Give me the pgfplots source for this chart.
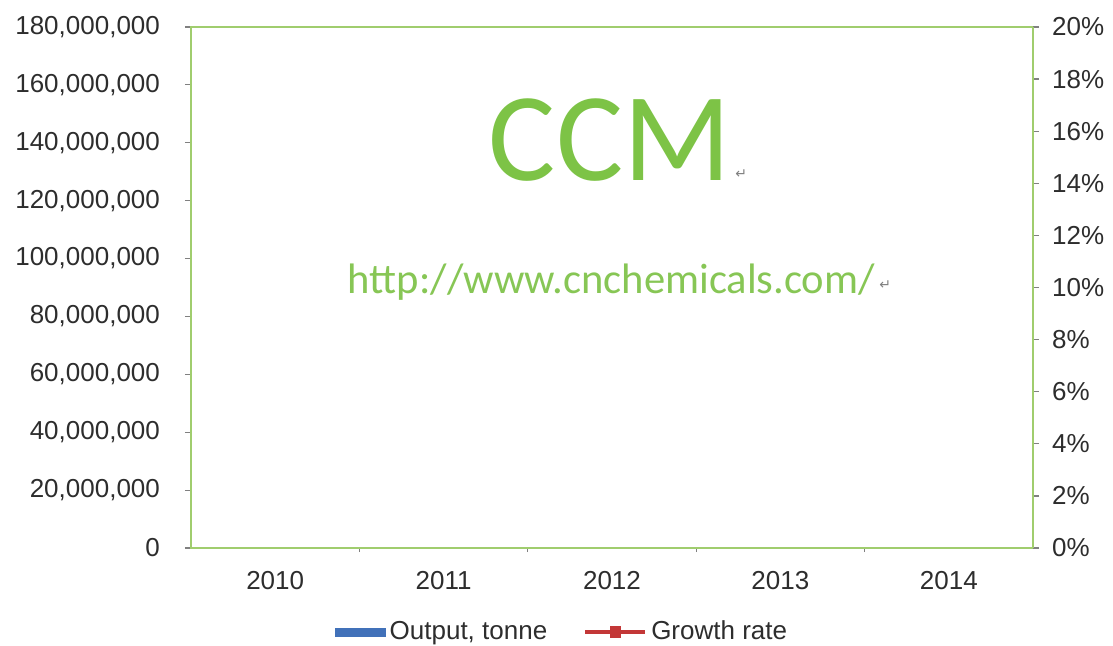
\documentclass[border=0pt]{standalone}
\usepackage{fontspec}
\setmainfont{Liberation Sans}
\newfontfamily\calibri{Carlito}
\newfontfamily\dejavu{DejaVu Sans}
\usepackage{pgfplots}
\pgfplotsset{compat=1.18}
\definecolor{axgreen}{RGB}{160,205,110}
\definecolor{ccmgreen}{RGB}{125,195,70}
\definecolor{urlgreen}{RGB}{135,198,85}
\definecolor{barblue}{RGB}{65,113,185}
\definecolor{linered}{RGB}{195,55,55}
\definecolor{lbl}{RGB}{45,45,45}
\begin{document}
\begin{tikzpicture}
\pgfplotsset{
  common/.style={
    scale only axis, width=421pt, height=260.5pt,
    xmin=-0.5, xmax=4.5,
    clip=false,
    tick align=outside,
    major tick length=3pt,
    every tick/.style={gray, line width=0.6pt},
    axis line style={axgreen, line width=0.9pt},
    ticklabel style={font=\fontsize{13}{13}\selectfont, text=lbl},
    /pgf/number format/assume math mode=true,
  }
}
\begin{axis}[common,
  ymin=0, ymax=180000000,
  ytick distance=20000000,
  scaled y ticks=false,
  yticklabel style={/pgf/number format/fixed, /pgf/number format/1000 sep={,}, xshift=-9pt},
  ytick pos=left, xtick pos=bottom,
  xtick={0,1,2,3,4},
  xticklabels={2010,2011,2012,2013,2014},
  major x tick style={draw=none},
  minor xtick={0.5,1.5,2.5,3.5},
  minor tick length=2pt,
  xticklabel style={yshift=-5pt},
  legend style={at={(rel axis cs:0.4418,-0.161)}, anchor=center, draw=none,
    fill=none, legend columns=2, font=\fontsize{13}{13}\selectfont, text=lbl,
    /tikz/every even column/.style={column sep=16pt}},
]
\addlegendimage{legend image code/.code={\fill[barblue] (0pt,-2pt) rectangle (25pt,2pt);}}
\addlegendentry{Output, tonne}
\addlegendimage{legend image code/.code={\draw[linered, line width=2pt] (0pt,0pt) -- (30pt,0pt); \fill[linered] (12.5pt,-2.6pt) rectangle (17.5pt,2.6pt);}}
\addlegendentry{Growth rate}
\node[ccmgreen, font=\calibri\fontsize{63}{63}\selectfont, anchor=base] at (rel axis cs:0.4976,0.7063) {CCM};
\node[gray, font=\dejavu\fontsize{7}{7}\selectfont, anchor=base west, inner sep=0pt] at (rel axis cs:0.646,0.71) {↵};
\node[urlgreen, font=\calibri\fontsize{21.3}{21.3}\selectfont, anchor=base] at (rel axis cs:0.4994,0.4894) {http://www.cnchemicals.com/};
\node[gray, font=\dejavu\fontsize{7}{7}\selectfont, anchor=base west, inner sep=0pt] at (rel axis cs:0.817,0.497) {↵};
\coordinate (bbsw) at (rel axis cs:-0.2268,-0.1862);
\coordinate (bbne) at (rel axis cs:1.095,1.0518);
\end{axis}
\begin{axis}[common,
  ymin=0, ymax=20,
  axis y line*=right, axis x line=none,
  ytick distance=2,
  yticklabel={\pgfmathprintnumber{\tick}\%},
  yticklabel style={xshift=3pt},
]
\end{axis}
\pgfresetboundingbox
\path (bbsw) rectangle (bbne);
\end{tikzpicture}
\end{document}
